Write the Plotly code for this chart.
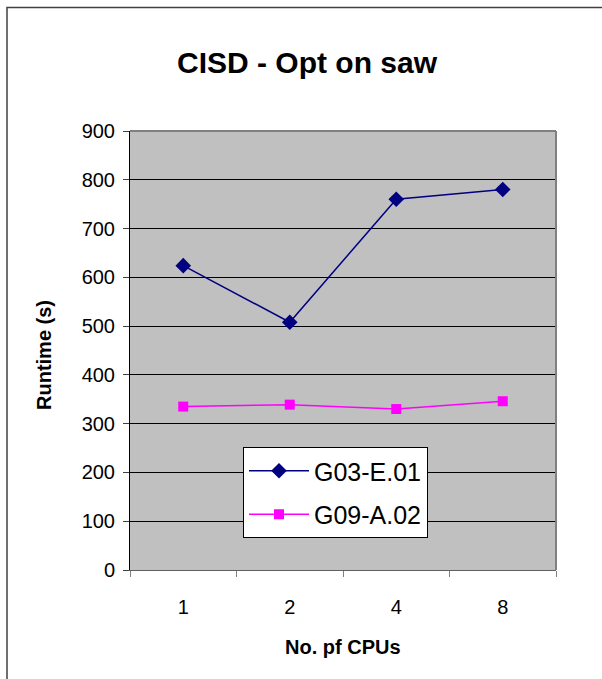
import plotly.graph_objects as go

cpus = ["1", "2", "4", "8"]
g03 = [624, 508, 760, 780]
g09 = [335, 339, 330, 346]
yticks = [0, 100, 200, 300, 400, 500, 600, 700, 800, 900]

FONT = "Liberation Sans, Arial, sans-serif"
L, R, T, B = 130, 46, 131, 109
W, H = 602, 679
pw, ph = W - L - R, H - T - B

fig = go.Figure()
fig.add_trace(go.Scatter(x=cpus, y=g03, name="G03-E.01", mode="lines+markers",
                         legendgroup="a",
                         line=dict(color="#000080", width=1.5),
                         marker=dict(symbol="diamond", size=12, color="#000080")))
fig.add_trace(go.Scatter(x=cpus, y=g09, name="G09-A.02", mode="lines+markers",
                         legendgroup="b",
                         line=dict(color="#FF00FF", width=1.5),
                         marker=dict(symbol="square", size=10, color="#FF00FF")))

def px_x(p):
    return (p - L) / pw

def px_y(p):
    return (H - B - p) / ph

fig.update_layout(
    width=W, height=H,
    margin=dict(l=L, r=R, t=T, b=B),
    paper_bgcolor="white", plot_bgcolor="#C0C0C0",
    font=dict(family=FONT, size=20, color="black"),
    title=dict(text="<b>CISD - Opt on saw</b>", x=(307) / W, xanchor="center",
               y=1 - 62 / H, yanchor="middle", font=dict(size=30)),
    showlegend=True,
    legend=dict(x=px_x(243), y=px_y(447), xanchor="left", yanchor="top",
                bgcolor="white", bordercolor="black", borderwidth=1,
                font=dict(size=25), itemwidth=60, tracegroupgap=8,
                traceorder="grouped"),
    xaxis=dict(type="category", tickson="boundaries", ticks="outside", ticklen=6,
               tickcolor="#808080", showline=True, linecolor="#606060", linewidth=1,
               mirror=False, showgrid=False, tickfont=dict(size=20), range=[-0.5, 3.5],
               ticklabelstandoff=19),
    yaxis=dict(range=[0, 900], tickvals=yticks, ticks="outside", ticklen=6,
               tickcolor="#404040", showline=True, linecolor="black", linewidth=1,
               showgrid=True, gridcolor="black", gridwidth=1, zeroline=False,
               tickfont=dict(size=20), ticklabelstandoff=4),
)

fig.add_annotation(text="<b>Runtime (s)</b>", xref="paper", yref="paper",
                   x=px_x(44), y=px_y(355), textangle=-90, showarrow=False,
                   font=dict(size=20), xanchor="center", yanchor="middle")
fig.add_annotation(text="<b>No. pf CPUs</b>", xref="paper", yref="paper",
                   x=px_x(343), y=px_y(647), showarrow=False,
                   font=dict(size=20), xanchor="center", yanchor="middle")

# plot area border top/right (gray)
fig.add_shape(type="line", xref="paper", yref="paper", x0=0, x1=1, y0=1, y1=1,
              line=dict(color="#808080", width=2))
fig.add_shape(type="line", xref="paper", yref="paper", x0=1, x1=1, y0=0, y1=1,
              line=dict(color="#808080", width=2))
# chart outer border
fig.add_shape(type="rect", xref="paper", yref="paper",
              x0=px_x(7), x1=px_x(700), y0=px_y(760), y1=px_y(7.5),
              line=dict(color="#404040", width=1.5), fillcolor="rgba(0,0,0,0)", layer="below")

fig.write_html("out.html")
